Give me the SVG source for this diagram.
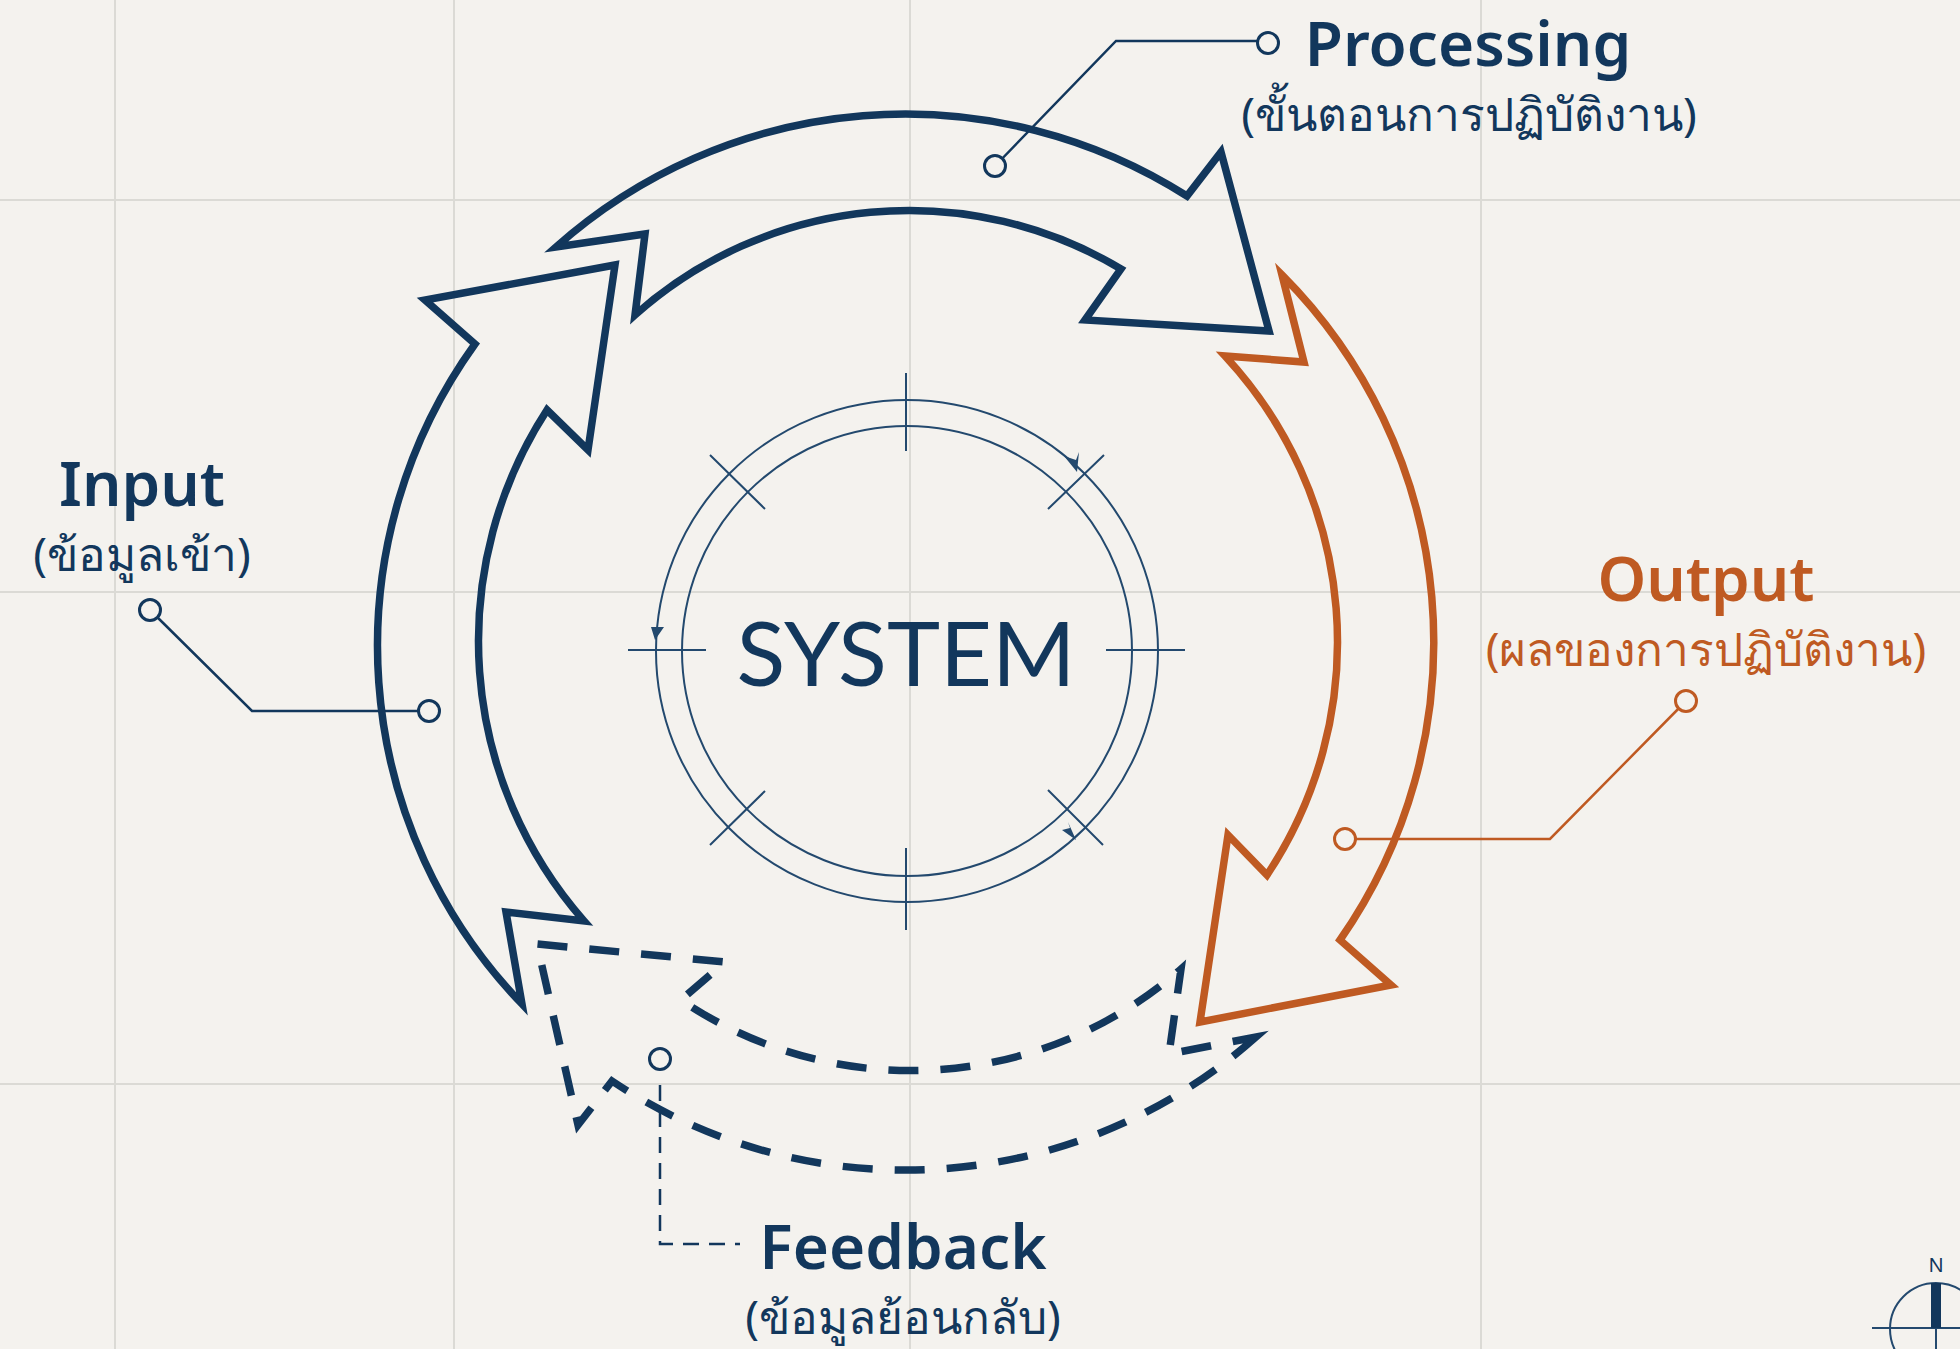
<svg xmlns="http://www.w3.org/2000/svg" width="1960" height="1349" viewBox="0 0 1960 1349">
<style>
.grid{stroke:#dbdad5;stroke-width:2;fill:none}
.fine{stroke:#23496e;stroke-width:2;fill:none}
.big{fill:none;stroke-width:7.5;stroke-linejoin:miter;stroke-miterlimit:8}
.navy{stroke:#12375c}.org{stroke:#bf5a22}
.dash{stroke-dasharray:30 22;stroke-width:7.5;fill:none;stroke:#12375c;stroke-linejoin:miter}
.lead{fill:none;stroke-width:2.5}
.dot{fill:#f4f2ee;stroke-width:3}
text{font-family:"Noto Sans","Open Sans",sans-serif;text-anchor:middle}
.h{font-size:62px;font-weight:600}
.t{font-size:46px}
.n{fill:#12375c}.o{fill:#bf5a22}
</style>
<rect width="1960" height="1349" fill="#f4f2ee"/>
<g id="grid">
<path class="grid" d="M115 0V1349M454 0V1349M910 0V1349M1481 0V1349M0 200H1960M0 592H1960M0 1084H1960"/>
</g>
<g id="system">
<circle class="fine" cx="907" cy="651" r="251"/>
<circle class="fine" cx="907" cy="651" r="225"/>
<path class="fine" d="M906 373V451M906 848V930M628 650H706M1106 650H1185M710 455L765 509M1104 455L1048 509M710 845L765 791M1048 790L1103 845"/>
<path fill="#23496e" d="M1077 472L1064 456L1076 460L1079 452ZM1076 840L1062 830L1070 828L1068 822ZM655 640L651 627L664 627Z"/>
<text x="906" y="686" style="font-size:90px;font-family:'Lato','Noto Sans',sans-serif" class="n">SYSTEM</text>
</g>
<g id="connectors">
<path class="lead navy" d="M995 166L1116 41H1257"/>
<path class="lead navy" d="M150 610L252 711H419"/>
<path class="lead org" d="M1686 701L1550 839H1356"/>
<path class="lead navy" stroke-dasharray="16 10" d="M660 1085V1244H740"/>
</g>
<g id="processing">
<path class="big navy" d="M556 247A525 525 0 0 1 1187 196L1221 152L1269 331L1085 320L1121 269A412 412 0 0 0 635 315L645 234Z"/>
<circle class="dot navy" cx="995" cy="166" r="10.500"/>
<circle class="dot navy" cx="1268" cy="43" r="10.500"/>
<text x="1468" y="66" class="h n">Processing</text>
<text x="1469" y="131" class="t n">(ขั้นตอนการปฏิบัติงาน)</text>
</g>
<g id="input">
<path class="big navy" d="M522 1004A516 516 0 0 1 475 344L425 300L615 265L588 450L547 410A424 424 0 0 0 584 921L506 912Z"/>
<circle class="dot navy" cx="150" cy="610" r="10.500"/>
<circle class="dot navy" cx="429" cy="711" r="10.500"/>
<text x="142" y="506" class="h n">Input</text>
<text x="142" y="571" class="t n">(ข้อมูลเข้า)</text>
</g>
<g id="output">
<path class="big org" d="M1282 275A520 520 0 0 1 1340 940L1391 985L1200 1022L1228 835L1267 875A420 420 0 0 0 1225 356L1304 362Z"/>
<circle class="dot org" cx="1686" cy="701" r="10.500"/>
<circle class="dot org" cx="1345" cy="839" r="10.500"/>
<text x="1706" y="601" class="h o">Output</text>
<text x="1706" y="666" class="t o">(ผลของการปฏิบัติงาน)</text>
</g>
<g id="feedback">
<path class="dash" d="M1256 1037A528 528 0 0 1 612 1081L578 1125L537 944L725 962L681 1000A410 410 0 0 0 1181 969L1169 1054Z"/>
<circle class="dot navy" cx="660" cy="1059" r="10.500"/>
<text x="903" y="1269" class="h n">Feedback</text>
<text x="903" y="1334" class="t n">(ข้อมูลย้อนกลับ)</text>
</g>
<g id="compass">
<text x="1936" y="1272" style="font-size:20px" class="n">N</text>
<circle class="fine" cx="1936" cy="1329" r="46"/>
<path class="fine" d="M1872 1328H1960M1936 1328V1349"/>
<rect x="1931" y="1283" width="10" height="45" fill="#12375c"/>
</g>
</svg>
